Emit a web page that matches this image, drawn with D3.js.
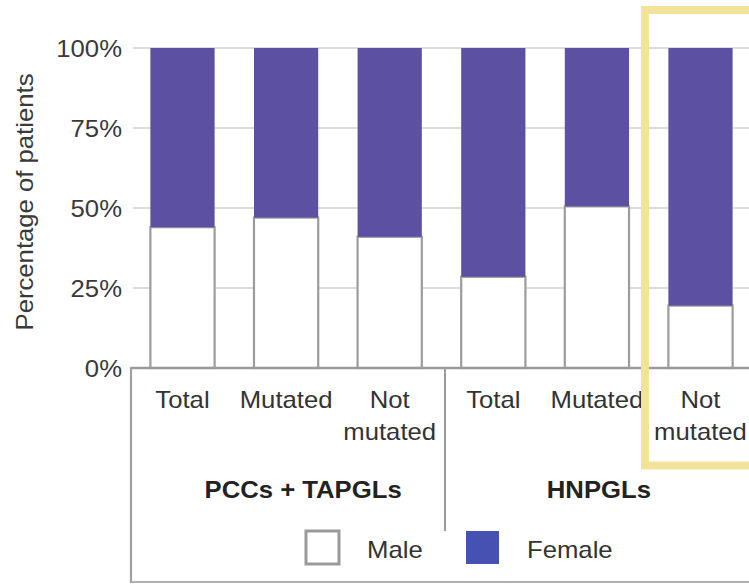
<!DOCTYPE html>
<html>
<head>
<meta charset="utf-8">
<script src="https://cdn.jsdelivr.net/npm/d3@7"></script>
<style>
  html, body { margin: 0; padding: 0; background: #ffffff; }
  svg { display: block; }
  text { font-family: "Liberation Sans", Arial, sans-serif; }
</style>
</head>
<body>
<svg id="chart" width="749" height="585"></svg>
<script>
// ---- data ----
const barIds = ["pcc_total", "pcc_mut", "pcc_notmut", "hn_total", "hn_mut", "hn_notmut"];
const categories = ["Total", "Mutated", "Not\nmutated", "Total", "Mutated", "Not\nmutated"];
const groups = ["PCCs + TAPGLs", "HNPGLs"];
const groupMembers = [[0, 1, 2], [3, 4, 5]];
const male = [44, 47, 41, 28.5, 50.5, 19.5];
const female = [56, 53, 59, 71.5, 49.5, 80.5];
const seriesNames = ["Male", "Female"];
const yTicks = [0, 25, 50, 75, 100];

const colors = { Male: "#ffffff", Female: "#5c50a3" };
const legendColors = { Male: "#ffffff", Female: "#4552b2" };

const svg = d3.select("#chart");

const x = d3.scaleBand()
  .domain(barIds)
  .range([130.7, 752.3])
  .paddingInner(0.38)
  .paddingOuter(0.19);

const y = d3.scaleLinear().domain([0, 100]).range([368, 48]);

const rows = barIds.map((id, i) => ({ id, Male: male[i], Female: female[i] }));
const stacked = d3.stack().keys(seriesNames)(rows);

// gridlines
svg.append("g")
  .selectAll("line")
  .data(yTicks.filter(d => d > 0))
  .join("line")
  .attr("x1", 133).attr("x2", 749)
  .attr("y1", d => y(d)).attr("y2", d => y(d))
  .attr("stroke", "#dcdcdc").attr("stroke-width", 2);

// y tick labels
svg.append("g")
  .selectAll("text")
  .data(yTicks)
  .join("text")
  .attr("x", 122)
  .attr("y", d => y(d))
  .attr("dy", "0.38em")
  .attr("text-anchor", "end")
  .attr("font-size", 24)
  .attr("fill", "#3a3a3a")
  .text(d => d + "%");

// y axis title
svg.append("text")
  .attr("transform", "translate(33,202) rotate(-90)")
  .attr("text-anchor", "middle")
  .attr("font-size", 24)
  .attr("fill", "#3a3a3a")
  .text("Percentage of patients");

// bars
const barG = svg.append("g");
stacked.forEach(layer => {
  barG.append("g")
    .selectAll("rect")
    .data(layer)
    .join("rect")
    .attr("x", d => x(d.data.id))
    .attr("width", x.bandwidth())
    .attr("y", d => y(d[1]))
    .attr("height", d => y(d[0]) - y(d[1]))
    .attr("fill", colors[layer.key])
    .attr("stroke", layer.key === "Male" ? "#9c9c9c" : "none")
    .attr("stroke-width", 2.2);
});

// axis line + box
svg.append("line")
  .attr("x1", 131).attr("x2", 749).attr("y1", 368).attr("y2", 368)
  .attr("stroke", "#9a9a9a").attr("stroke-width", 2.5);
svg.append("line")
  .attr("x1", 131).attr("x2", 131).attr("y1", 367).attr("y2", 583)
  .attr("stroke", "#a0a0a0").attr("stroke-width", 2.2);
svg.append("line")
  .attr("x1", 131).attr("x2", 749).attr("y1", 582).attr("y2", 582)
  .attr("stroke", "#b0b0b0").attr("stroke-width", 2);
// group divider
svg.append("line")
  .attr("x1", 445).attr("x2", 445).attr("y1", 368).attr("y2", 531)
  .attr("stroke", "#9a9a9a").attr("stroke-width", 2);

// category labels
const catG = svg.append("g");
categories.forEach((c, i) => {
  const lines = c.split("\n");
  const cx = x(barIds[i]) + x.bandwidth() / 2;
  lines.forEach((ln, j) => {
    catG.append("text")
      .attr("x", cx)
      .attr("y", 408 + j * 32)
      .attr("text-anchor", "middle")
      .attr("font-size", 24)
      .attr("fill", "#333")
      .text(ln);
  });
});

// group labels
const groupOffsets = [17, 2];
groups.forEach((g, gi) => {
  const mem = groupMembers[gi];
  const cx = (x(barIds[mem[0]]) + x(barIds[mem[mem.length - 1]]) + x.bandwidth()) / 2 + groupOffsets[gi];
  svg.append("text")
    .attr("x", cx).attr("y", 498)
    .attr("text-anchor", "middle")
    .attr("font-size", 24)
    .attr("font-weight", "bold")
    .attr("fill", "#222")
    .text(g);
});

// legend
const legendItems = [
  { key: "Male", bx: 306, tx: 367 },
  { key: "Female", bx: 466, tx: 527 }
];
legendItems.forEach(it => {
  svg.append("rect")
    .attr("x", it.bx).attr("y", 531)
    .attr("width", 33).attr("height", 33)
    .attr("fill", legendColors[it.key])
    .attr("stroke", it.key === "Male" ? "#9a9a9a" : "none")
    .attr("stroke-width", 3);
  svg.append("text")
    .attr("x", it.tx).attr("y", 558)
    .attr("font-size", 24)
    .attr("fill", "#333")
    .text(it.key);
});

// the reference type is slightly wider than Liberation Sans: stretch each label a little
svg.selectAll("text").each(function () {
  const w = this.getComputedTextLength();
  d3.select(this).attr("textLength", w * 1.07).attr("lengthAdjust", "spacingAndGlyphs");
});

// yellow highlight frame
svg.append("rect")
  .attr("x", 645).attr("y", 10)
  .attr("width", 200).attr("height", 455.5)
  .attr("fill", "none")
  .attr("stroke", "#f2e39b")
  .attr("stroke-width", 8);
</script>
</body>
</html>
